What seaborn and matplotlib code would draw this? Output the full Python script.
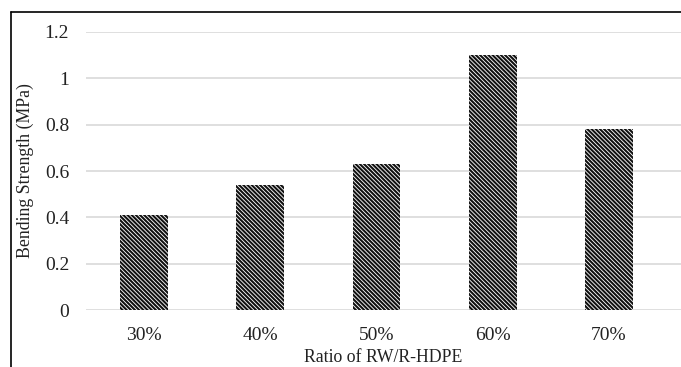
import seaborn as sns
import matplotlib.pyplot as plt
from matplotlib.lines import Line2D
import pandas as pd

ratios = ["30%", "40%", "50%", "60%", "70%"]
strength = [0.41, 0.54, 0.63, 1.10, 0.78]
y_ticks = [0, 0.2, 0.4, 0.6, 0.8, 1, 1.2]
y_labels = ["0", "0.2", "0.4", "0.6", "0.8", "1", "1.2"]

df = pd.DataFrame({"ratio": ratios, "strength": strength})

sns.set_style("white")
plt.rcParams["font.family"] = ["Liberation Serif", "DejaVu Serif"]
plt.rcParams["hatch.linewidth"] = 1.5

fig = plt.figure(figsize=(6.81, 3.67), dpi=100)
ax = fig.add_axes([0.126, 0.155, 0.874, 0.758])

sns.barplot(data=df, x="ratio", y="strength", color="white", width=0.41,
            edgecolor="#111111", linewidth=0, ax=ax)
for bar in ax.patches:
    bar.set_hatch("\\" * 8)
    bar.set_zorder(3)

# plot area runs past the last category (picture is cropped on the right)
ax.set_xlim(-0.5, 4.62)
ax.set_ylim(0, 1.2)
ax.set_yticks(y_ticks)
ax.set_yticklabels(y_labels)
ax.yaxis.grid(True, color="#d9d9d9", linewidth=1.2, zorder=0)
ax.set_axisbelow(True)
for s in ["top", "right", "left", "bottom"]:
    ax.spines[s].set_visible(False)
ax.tick_params(axis="both", length=0, labelsize=14, colors="#222222")
ax.tick_params(axis="x", pad=12)
ax.tick_params(axis="y", pad=12)
ax.set_xlabel("Ratio of RW/R-HDPE", fontsize=12.8, color="#222222", labelpad=4)
ax.set_ylabel("Bending Strength (MPa)", fontsize=12.8, color="#222222", labelpad=8)

# outer chart frame: only left and top edges fall inside the picture
x0 = 11 / 681
y0 = 1 - 12 / 367
fig.add_artist(Line2D([x0, x0], [0, y0], transform=fig.transFigure, color="black", linewidth=1.2))
fig.add_artist(Line2D([x0, 1], [y0, y0], transform=fig.transFigure, color="black", linewidth=1.2))

fig.savefig("out.png", dpi=100)
